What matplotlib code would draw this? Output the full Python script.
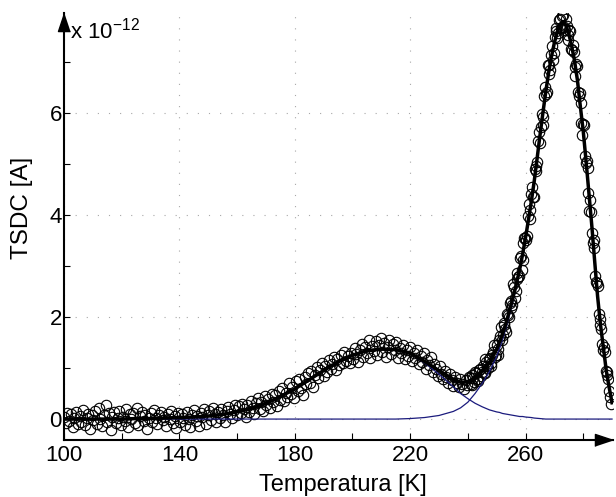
import numpy as np
import matplotlib.pyplot as plt

plt.rcParams['font.family'] = ['Liberation Sans', 'DejaVu Sans']
plt.rcParams['mathtext.fontset'] = 'custom'
plt.rcParams['mathtext.rm'] = 'Liberation Sans'
plt.rcParams['mathtext.default'] = 'regular'

# --- pontos medidos (T em K, corrente em 1e-12 A) ---
temp_meas = [
    100.0, 100.6, 101.2, 101.8, 102.4, 103.0, 103.6, 104.2, 104.8, 105.4,
    106.0, 106.6, 107.2, 107.8, 108.4, 109.0, 109.6, 110.2, 110.8, 111.4,
    112.0, 112.6, 113.2, 113.8, 114.4, 115.0, 115.6, 116.2, 116.8, 117.4,
    118.0, 118.6, 119.2, 119.8, 120.4, 121.0, 121.6, 122.2, 122.8, 123.4,
    124.0, 124.6, 125.2, 125.8, 126.4, 127.0, 127.6, 128.2, 128.8, 129.4,
    130.0, 130.6, 131.2, 131.8, 132.4, 133.0, 133.6, 134.2, 134.8, 135.4,
    136.0, 136.6, 137.2, 137.8, 138.4, 139.0, 139.6, 140.2, 140.8, 141.4,
    142.0, 142.6, 143.2, 143.8, 144.4, 145.0, 145.6, 146.2, 146.8, 147.4,
    148.0, 148.6, 149.2, 149.8, 150.4, 151.0, 151.6, 152.2, 152.8, 153.4,
    154.0, 154.6, 155.2, 155.8, 156.4, 157.0, 157.6, 158.2, 158.8, 159.4,
    160.0, 160.6, 161.2, 161.8, 162.4, 163.0, 163.6, 164.2, 164.8, 165.4,
    166.0, 166.6, 167.2, 167.8, 168.4, 169.0, 169.6, 170.2, 170.8, 171.4,
    172.0, 172.6, 173.2, 173.8, 174.4, 175.0, 175.6, 176.2, 176.8, 177.4,
    178.0, 178.6, 179.2, 179.8, 180.4, 181.0, 181.6, 182.2, 182.8, 183.4,
    184.0, 184.6, 185.2, 185.8, 186.4, 187.0, 187.6, 188.2, 188.8, 189.4,
    190.0, 190.6, 191.2, 191.8, 192.4, 193.0, 193.6, 194.2, 194.8, 195.4,
    196.0, 196.6, 197.2, 197.8, 198.4, 199.0, 199.6,
    200.2, 200.8, 201.4, 202.0, 202.6, 203.2, 203.8, 204.4, 205.0, 205.6,
    206.2, 206.8, 207.4, 208.0, 208.6, 209.2, 209.8, 210.4, 211.0, 211.6,
    212.2, 212.8, 213.4, 214.0, 214.6, 215.2, 215.8, 216.4, 217.0, 217.6,
    218.2, 218.8, 219.4, 220.0, 220.6, 221.2, 221.8, 222.4, 223.0, 223.6,
    224.2, 224.8, 225.4, 226.0, 226.6, 227.2, 227.8, 228.4, 229.0, 229.6,
    230.2, 230.8, 231.4, 232.0, 232.6, 233.2, 233.8, 234.4, 235.0, 235.6,
    236.2, 236.8, 237.4, 238.0, 238.6, 239.2, 239.8,
    240.4, 241.0, 241.6, 242.2, 242.8, 243.4, 244.0, 244.6, 245.2, 245.8,
    246.4, 247.0, 247.6, 248.2, 248.8, 249.4, 250.0, 250.6, 251.2, 251.8,
    252.4, 253.0, 253.6, 254.2, 254.8, 255.4, 256.0, 256.6, 257.2, 257.8,
    258.4, 259.0, 259.6, 260.2, 260.8, 261.4, 262.0, 262.6, 263.2, 263.8,
    264.4, 265.0, 265.6, 266.2, 266.8, 267.4, 268.0, 268.6, 269.2, 269.8,
    270.4, 271.0, 271.6, 272.2, 272.8, 273.4, 274.0, 274.6, 275.2, 275.8,
    276.4, 277.0, 277.6, 278.2, 278.8, 279.4, 280.0, 280.6, 281.2, 281.8,
    282.4, 283.0, 283.6, 284.2, 284.8, 285.4, 286.0, 286.6, 287.2, 287.8,
    288.4, 289.0, 289.6,
    # segunda varredura, entre os pontos acima
    240.7, 241.3, 241.9, 242.5, 243.1, 243.7, 244.3, 244.9, 245.5, 246.1,
    246.7, 247.3, 247.9, 248.5, 249.1, 249.7, 250.3, 250.9, 251.5, 252.1,
    252.7, 253.3, 253.9, 254.5, 255.1, 255.7, 256.3, 256.9, 257.5, 258.1,
    258.7, 259.3, 259.9, 260.5, 261.1, 261.7, 262.3, 262.9, 263.5, 264.1,
    264.7, 265.3, 265.9, 266.5, 267.1, 267.7, 268.3, 268.9, 269.5, 270.1,
    270.7, 271.3, 271.9, 272.5, 273.1, 273.7, 274.3, 274.9, 275.5, 276.1,
    276.7, 277.3, 277.9, 278.5, 279.1, 279.7, 280.3, 280.9, 281.5, 282.1,
    282.7, 283.3, 283.9, 284.5, 285.1, 285.7, 286.3, 286.9, 287.5, 288.1,
    288.7, 289.3,
]
tsdc_meas = [
    0.05, -0.08, 0.12, -0.03, 0.09, -0.15, 0.02, 0.14, -0.10, 0.06,
    -0.05, 0.18, -0.12, 0.03, 0.10, -0.20, 0.07, -0.02, 0.15, -0.09,
    0.22, 0.01, -0.14, 0.08, 0.27, -0.06, 0.11, -0.22, 0.04, 0.13,
    -0.08, 0.02, 0.16, -0.11, 0.05, -0.03, 0.19, -0.16, 0.09, 0.00,
    0.12, -0.07, 0.21, -0.12, 0.06, 0.14, -0.04, 0.08, -0.19, 0.03,
    0.11, -0.06, 0.17, 0.02, -0.10, 0.07, 0.13, -0.02, 0.05, -0.14,
    0.10, 0.01, 0.15, -0.08, 0.06, -0.18, 0.12, -0.05, 0.09, 0.03,
    -0.11, 0.14, 0.00, -0.15, 0.08, 0.18, -0.04, 0.06, -0.13, 0.11,
    0.04, 0.20, -0.09, 0.07, 0.15, -0.02, 0.21, 0.10, -0.06, 0.13,
    0.03, 0.19, 0.07, -0.05, 0.16, 0.24, 0.09, 0.02, 0.18, 0.27,
    0.08, 0.25, 0.11, 0.30, 0.19, 0.05, 0.28, 0.14, 0.35, 0.22,
    0.10, 0.31, 0.42, 0.20, 0.34, 0.16, 0.45, 0.28, 0.39, 0.22,
    0.50, 0.33, 0.47, 0.26, 0.55, 0.38, 0.60, 0.36, 0.52, 0.44,
    0.70, 0.49, 0.62, 0.41, 0.74, 0.55, 0.79, 0.60, 0.48, 0.83,
    0.68, 0.90, 0.71, 0.95, 0.62, 0.87, 1.02, 0.80, 0.96, 1.10,
    0.85, 1.04, 0.93, 1.15, 0.98, 1.08, 1.21, 0.96, 1.17, 1.05,
    1.26, 1.10, 1.32, 1.14, 1.24, 1.09, 1.30,
    1.18, 1.40, 1.27, 1.12, 1.36, 1.48, 1.22, 1.41, 1.30, 1.55,
    1.19, 1.44, 1.33, 1.52, 1.25, 1.46, 1.58, 1.31, 1.49, 1.22,
    1.42, 1.54, 1.28, 1.47, 1.35, 1.51, 1.20, 1.40, 1.29, 1.46,
    1.17, 1.36, 1.24, 1.42, 1.13, 1.30, 1.19, 1.35, 1.07, 1.24,
    1.12, 1.29, 0.98, 1.16, 1.05, 1.21, 0.93, 1.08, 0.99, 0.84,
    1.03, 0.89, 0.78, 0.95, 0.82, 0.70, 0.88, 0.76, 0.65, 0.83,
    0.71, 0.62, 0.79, 0.68, 0.58, 0.77, 0.66,
    0.82, 0.69, 0.86, 0.73, 0.90, 0.78, 0.97, 0.84, 1.03, 0.91,
    1.12, 1.00, 1.20, 1.10, 1.32, 1.22, 1.45, 1.38, 1.62, 1.55,
    1.84, 1.76, 2.06, 1.99, 2.31, 2.24, 2.58, 2.51, 2.86, 2.80,
    3.19, 3.12, 3.55, 3.50, 3.97, 3.92, 4.40, 4.36, 4.90, 4.86,
    5.44, 5.40, 5.98, 5.92, 6.50, 6.40, 6.93, 6.84, 7.30, 7.18,
    7.60, 7.47, 7.82, 7.66, 7.90, 7.68, 7.84, 7.52, 7.62, 7.25,
    7.32, 6.90, 6.95, 6.40, 6.38, 5.80, 5.79, 5.16, 5.06, 4.42,
    4.30, 3.64, 3.50, 2.81, 2.67, 2.06, 1.97, 1.47, 1.42, 0.95,
    0.92, 0.55, 0.30,
    0.81, 0.67, 0.81, 0.93, 0.79, 0.74, 0.99, 0.93, 0.90, 1.17,
    1.04, 1.18, 1.03, 1.25, 1.45, 1.26, 1.26, 1.55, 1.80, 1.64,
    1.89, 1.70, 2.04, 2.28, 2.17, 2.64, 2.37, 2.74, 2.78, 3.16,
    2.92, 3.44, 3.54, 3.58, 4.22, 4.09, 4.54, 4.36, 4.96, 5.04,
    5.63, 5.72, 5.77, 6.32, 6.37, 6.93, 6.76, 7.13, 7.03, 7.49,
    7.67, 7.57, 7.84, 7.68, 7.92, 7.63, 7.71, 7.42, 7.61, 7.24,
    7.20, 6.72, 6.91, 6.32, 6.20, 5.56, 5.77, 5.01, 4.91, 4.08,
    4.05, 3.44, 3.35, 2.68, 2.60, 1.84, 1.76, 1.36, 1.32, 0.87,
    0.79, 0.43,
]

# --- picos ajustados (mesma escala) ---
temp_fit = [
    100, 105, 110, 115, 120, 125, 130, 135, 140, 145, 150, 155, 160, 165,
    170, 175, 180, 185, 190, 195, 200, 205, 210, 215, 220, 225, 230, 235,
    237.5, 240, 242.5, 245, 247.5, 250,
    251, 252, 253, 254, 255, 256, 257, 258, 259, 260, 261, 262, 263, 264,
    265, 266, 267, 268, 269, 270, 271, 272, 273, 274, 275, 276, 277, 278,
    279, 280, 281, 282, 283, 284, 285, 286, 287, 288, 289, 290,
]
pico1 = [
    0, 0, 0, 0, 0, 0.01, 0.01, 0.02, 0.03, 0.04, 0.06, 0.09, 0.14, 0.21,
    0.31, 0.44, 0.59, 0.77, 0.95, 1.12, 1.25, 1.34, 1.37, 1.36, 1.28, 1.10, 0.88, 0.63,
    0.50, 0.40, 0.31, 0.24, 0.18, 0.14,
    0.13, 0.11, 0.10, 0.09, 0.08, 0.07, 0.06, 0.05, 0.05, 0.04, 0.035, 0.03, 0.02, 0.015,
    0.01, 0.005, 0, 0, 0, 0, 0, 0, 0, 0, 0, 0, 0, 0,
    0, 0, 0, 0, 0, 0, 0, 0, 0, 0, 0, 0,
]
pico2 = [
    0, 0, 0, 0, 0, 0, 0, 0, 0, 0, 0, 0, 0, 0,
    0, 0, 0, 0, 0, 0, 0, 0, 0, 0, 0.01, 0.03, 0.07, 0.15,
    0.22, 0.33, 0.50, 0.70, 0.93, 1.23,
    1.38, 1.55, 1.74, 1.94, 2.16, 2.39, 2.63, 2.89, 3.18, 3.51, 3.86, 4.23, 4.63, 5.08,
    5.54, 5.98, 6.40, 6.78, 7.10, 7.37, 7.58, 7.73, 7.79, 7.71, 7.55, 7.31, 7.02, 6.64,
    6.13, 5.65, 5.05, 4.42, 3.78, 3.08, 2.40, 1.85, 1.40, 0.95, 0.62, 0.32,
]
ajuste = np.array(pico1) + np.array(pico2)

# --- figura ---
fig = plt.figure(figsize=(6.16, 4.97), dpi=100)
ax = fig.add_axes([0.1039, 0.1147, 0.8906, 0.8586])

ax.plot(temp_meas, tsdc_meas, 'o', ms=7.5, mfc='none', mec='k', mew=0.8, zorder=2)
ax.plot(temp_fit, pico1, color='#1b1b7d', lw=0.9, zorder=3)
ax.plot(temp_fit, pico2, color='#1b1b7d', lw=0.9, zorder=3)
ax.plot(temp_fit, ajuste, color='k', lw=2.5, zorder=4)

ax.set_xlim(100, 290.2)
ax.set_ylim(-0.41, 7.95)
ax.set_xticks([100, 140, 180, 220, 260])
ax.set_xticks([120, 160, 200, 240, 280], minor=True)
ax.set_yticks([0, 2, 4, 6])
ax.set_yticks([1, 3, 5, 7], minor=True)
ax.tick_params(axis='x', which='both', direction='in', length=5, width=0.8,
               labelsize=16, pad=3.5)
ax.tick_params(axis='y', which='both', direction='in', length=4, width=0.8,
               labelsize=16, pad=1.5)
ax.grid(True, which='major', linestyle=(0, (1, 9)), color='#a8a8a8', lw=0.8)

for s in ['top', 'right']:
    ax.spines[s].set_visible(False)
for s in ['left', 'bottom']:
    ax.spines[s].set_linewidth(1.5)

# setas dos eixos
ax.plot(1, 0, marker=[(0, 0), (-3, 1), (-3, -1)], ms=26, color='k',
        transform=ax.transAxes, clip_on=False, zorder=5)
ax.plot(0, 1, marker=[(0, 0), (-1, -3), (1, -3)], ms=26, color='k',
        transform=ax.transAxes, clip_on=False, zorder=5)

ax.set_xlabel('Temperatura [K]', fontsize=17)
ax.set_ylabel('TSDC [A]', fontsize=17.5)
ax.xaxis.set_label_coords(0.509, -0.08)
ax.yaxis.set_label_coords(-0.056, 0.544)
fig.text(70 / 616, 1 - 39 / 497, r'x 10$^{-12}$', fontsize=16, va='baseline', ha='left')

fig.savefig('out.png', dpi=100)
